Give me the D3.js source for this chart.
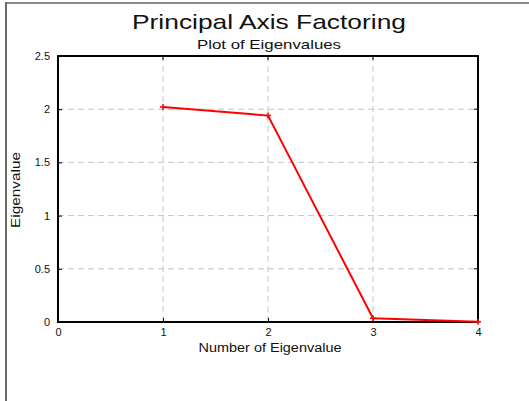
<!DOCTYPE html>
<html>
<head>
<meta charset="utf-8">
<script src="https://cdn.jsdelivr.net/npm/d3@7"></script>
<style>
  body { margin: 0; background: #fff; }
  text { font-family: Arial, "Liberation Sans", sans-serif; fill: #111; }
</style>
</head>
<body>
<div id="d3-container"></div>
<script>
// CONST and GLOBALS
const width = 529,
  height = 401,
  margin = { top: 56, bottom: 79, left: 58, right: 51 };

// data
const factorNumbers = [1, 2, 3, 4];
const eigenvalues = [2.02, 1.94, 0.035, 0.003];
const xTicks = [0, 1, 2, 3, 4];
const yTicks = [0, 0.5, 1, 1.5, 2, 2.5];

let svg = d3
  .select('#d3-container')
  .append('svg')
  .attr('width', width)
  .attr('height', height);

// outer frame (top + left only)
svg.append('line').attr('x1', 5).attr('x2', width).attr('y1', 3).attr('y2', 3)
  .attr('stroke', '#8a8a8a').attr('stroke-width', 2);
svg.append('line').attr('x1', 6).attr('x2', 6).attr('y1', 2).attr('y2', height)
  .attr('stroke', '#6a6a6a').attr('stroke-width', 2);

// SCALES
const xScale = d3.scaleLinear().domain([0, 4]).range([margin.left, width - margin.right]);
const yScale = d3.scaleLinear().domain([0, 2.5]).range([height - margin.bottom, margin.top]);

// grid
const grid = svg.append('g').attr('class', 'grid');
grid.selectAll('.vgrid')
  .data(xTicks.slice(1, -1))
  .join('line')
  .attr('x1', d => xScale(d)).attr('x2', d => xScale(d))
  .attr('y1', yScale(2.5)).attr('y2', yScale(0))
  .attr('stroke', '#c4c4c4').attr('stroke-dasharray', '6,4');
grid.selectAll('.hgrid')
  .data(yTicks.slice(1, -1))
  .join('line')
  .attr('x1', xScale(0)).attr('x2', xScale(4))
  .attr('y1', d => yScale(d)).attr('y2', d => yScale(d))
  .attr('stroke', '#c4c4c4').attr('stroke-dasharray', '6,4');

// AXES
let yAxis = d3.axisLeft(yScale).tickValues(yTicks).tickSize(-4).tickPadding(8)
  .tickFormat(d => d);
let xAxis = d3.axisBottom(xScale).tickValues(xTicks).tickSize(-4).tickPadding(6)
  .tickFormat(d => d);

svg.append('g')
  .attr('class', 'axis y-axis')
  .attr('transform', `translate(${margin.left},0)`)
  .call(yAxis)
  .call(g => g.select('.domain').remove())
  .call(g => g.selectAll('text').attr('font-size', 11));

svg.append('g')
  .attr('class', 'axis x-axis')
  .attr('transform', `translate(0,${height - margin.bottom})`)
  .call(xAxis)
  .call(g => g.select('.domain').remove())
  .call(g => g.selectAll('text').attr('font-size', 11));

// right & top ticks
svg.append('g').selectAll('line')
  .data(yTicks)
  .join('line')
  .attr('x1', xScale(4)).attr('x2', xScale(4) - 4)
  .attr('y1', d => yScale(d)).attr('y2', d => yScale(d))
  .attr('stroke', '#000');
svg.append('g').selectAll('line')
  .data(xTicks)
  .join('line')
  .attr('x1', d => xScale(d)).attr('x2', d => xScale(d))
  .attr('y1', yScale(2.5)).attr('y2', yScale(2.5) + 4)
  .attr('stroke', '#000');

// plot frame
svg.append('rect')
  .attr('x', xScale(0)).attr('y', yScale(2.5))
  .attr('width', xScale(4) - xScale(0))
  .attr('height', yScale(0) - yScale(2.5))
  .attr('fill', 'none').attr('stroke', '#000').attr('stroke-width', 2);

// line
const points = factorNumbers.map((n, i) => ({ n: n, v: eigenvalues[i] }));
const line = d3.line().x(d => xScale(d.n)).y(d => yScale(d.v));

svg.append('path')
  .datum(points)
  .attr('d', line)
  .attr('fill', 'none')
  .attr('stroke', '#ff0000')
  .attr('stroke-width', 2);

// + markers
svg.selectAll('.mark')
  .data(points)
  .join('path')
  .attr('class', 'mark')
  .attr('d', d => {
    let x = xScale(d.n), y = yScale(d.v);
    return `M${x - 3},${y}H${x + 3}M${x},${y - 3}V${y + 3}`;
  })
  .attr('stroke', '#ff0000')
  .attr('stroke-width', 1.5);

// titles (the original renders text wide, so stretch to its length)
function label(x, y, size, len, str) {
  return svg.append('text')
    .attr('x', x).attr('y', y)
    .attr('text-anchor', 'middle')
    .attr('font-size', size)
    .attr('textLength', len)
    .attr('lengthAdjust', 'spacingAndGlyphs')
    .text(str);
}

label(269, 29, 21, 274, 'Principal Axis Factoring');
label(269, 49, 13, 144, 'Plot of Eigenvalues');
label(270, 352, 12, 143, 'Number of Eigenvalue');

svg.append('text')
  .attr('transform', `translate(20,190) rotate(-90)`)
  .attr('text-anchor', 'middle')
  .attr('font-size', 12)
  .attr('textLength', 76)
  .attr('lengthAdjust', 'spacingAndGlyphs')
  .text('Eigenvalue');
</script>
</body>
</html>
